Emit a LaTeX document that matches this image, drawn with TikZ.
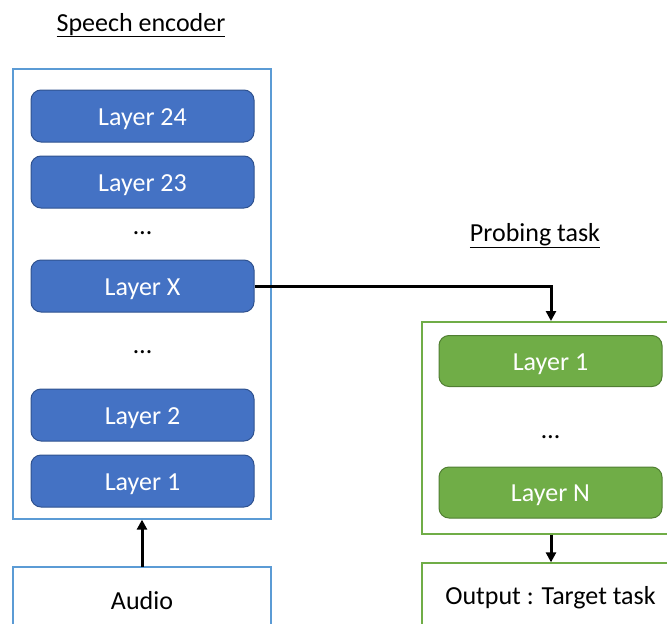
\documentclass[tikz,border=0pt]{standalone}
\usepackage{fontspec}
\setmainfont{Carlito}
\usetikzlibrary{arrows.meta}
\definecolor{lblue}{HTML}{4472C4}
\definecolor{dblue}{HTML}{2F528F}
\definecolor{oblue}{HTML}{5B9BD5}
\definecolor{lgreen}{HTML}{70AD47}
\definecolor{dgreen}{HTML}{507E32}
\tikzset{
  txt/.style={font=\fontsize{26}{30}\selectfont, text height=18pt, text depth=0pt},
  bluelayer/.style={txt, draw=dblue, fill=lblue, text=white, rounded corners=10pt, line width=1pt, minimum width=223pt, minimum height=52pt, inner sep=0pt},
  greenlayer/.style={txt, draw=dgreen, fill=lgreen, text=white, rounded corners=10pt, line width=1pt, minimum width=223pt, minimum height=51pt, inner sep=0pt},
  bluebox/.style={draw=oblue, line width=1.3pt, inner sep=0pt},
  greenbox/.style={draw=lgreen, line width=1.3pt, inner sep=0pt},
  conn/.style={line width=3pt, -{Triangle[length=10pt,width=10pt]}},
}
\begin{document}
\begin{tikzpicture}[x=1pt,y=-1pt]
\useasboundingbox (0,0) rectangle (667,624);
\clip (0,0) rectangle (667,624);
% titles
\node[txt] (t1) at (141,22) {\underline{Speech encoder}};
\node[txt] (t2) at (535,232) {\underline{Probing task}};
% left container
\node[bluebox, minimum width=258pt, minimum height=450pt] (enc) at (142,294) {};
\node[bluelayer] (l24) at (142.5,116) {Layer 24};
\node[bluelayer] (l23) at (142.5,182) {Layer 23};
\node[txt] (d1) at (142.5,225) {…};
\node[bluelayer] (lx) at (142.5,286) {Layer X};
\node[txt] (d2) at (142.5,344) {…};
\node[bluelayer] (l2) at (142.5,415) {Layer 2};
\node[bluelayer] (l1) at (142.5,481) {Layer 1};
% audio
\node[bluebox, minimum width=258pt, minimum height=80pt] (audio) at (142,607) {};
\node[txt] (audiotxt) at (142,600) {Audio};
% right container
\node[greenbox, minimum width=257pt, minimum height=212pt] (probe) at (550.5,428) {};
\node[greenlayer] (g1) at (550.5,361) {Layer 1};
\node[txt] (d3) at (550.5,429) {…};
\node[greenlayer] (gn) at (550.5,492.5) {Layer N};
% output
\node[greenbox, minimum width=257pt, minimum height=80pt] (out) at (550.5,603) {};
\node[txt] (outtxt) at (550.5,595) {Output : Target task};
% connectors
\coordinate (pin) at (551,321);
\coordinate (aud) at (142,567);
\draw[conn] (lx.east) -| (pin);
\draw[conn] (aud) -- (enc.south -| aud);
\draw[conn] (probe.south -| pin) -- (out.north -| pin);
\end{tikzpicture}
\end{document}
